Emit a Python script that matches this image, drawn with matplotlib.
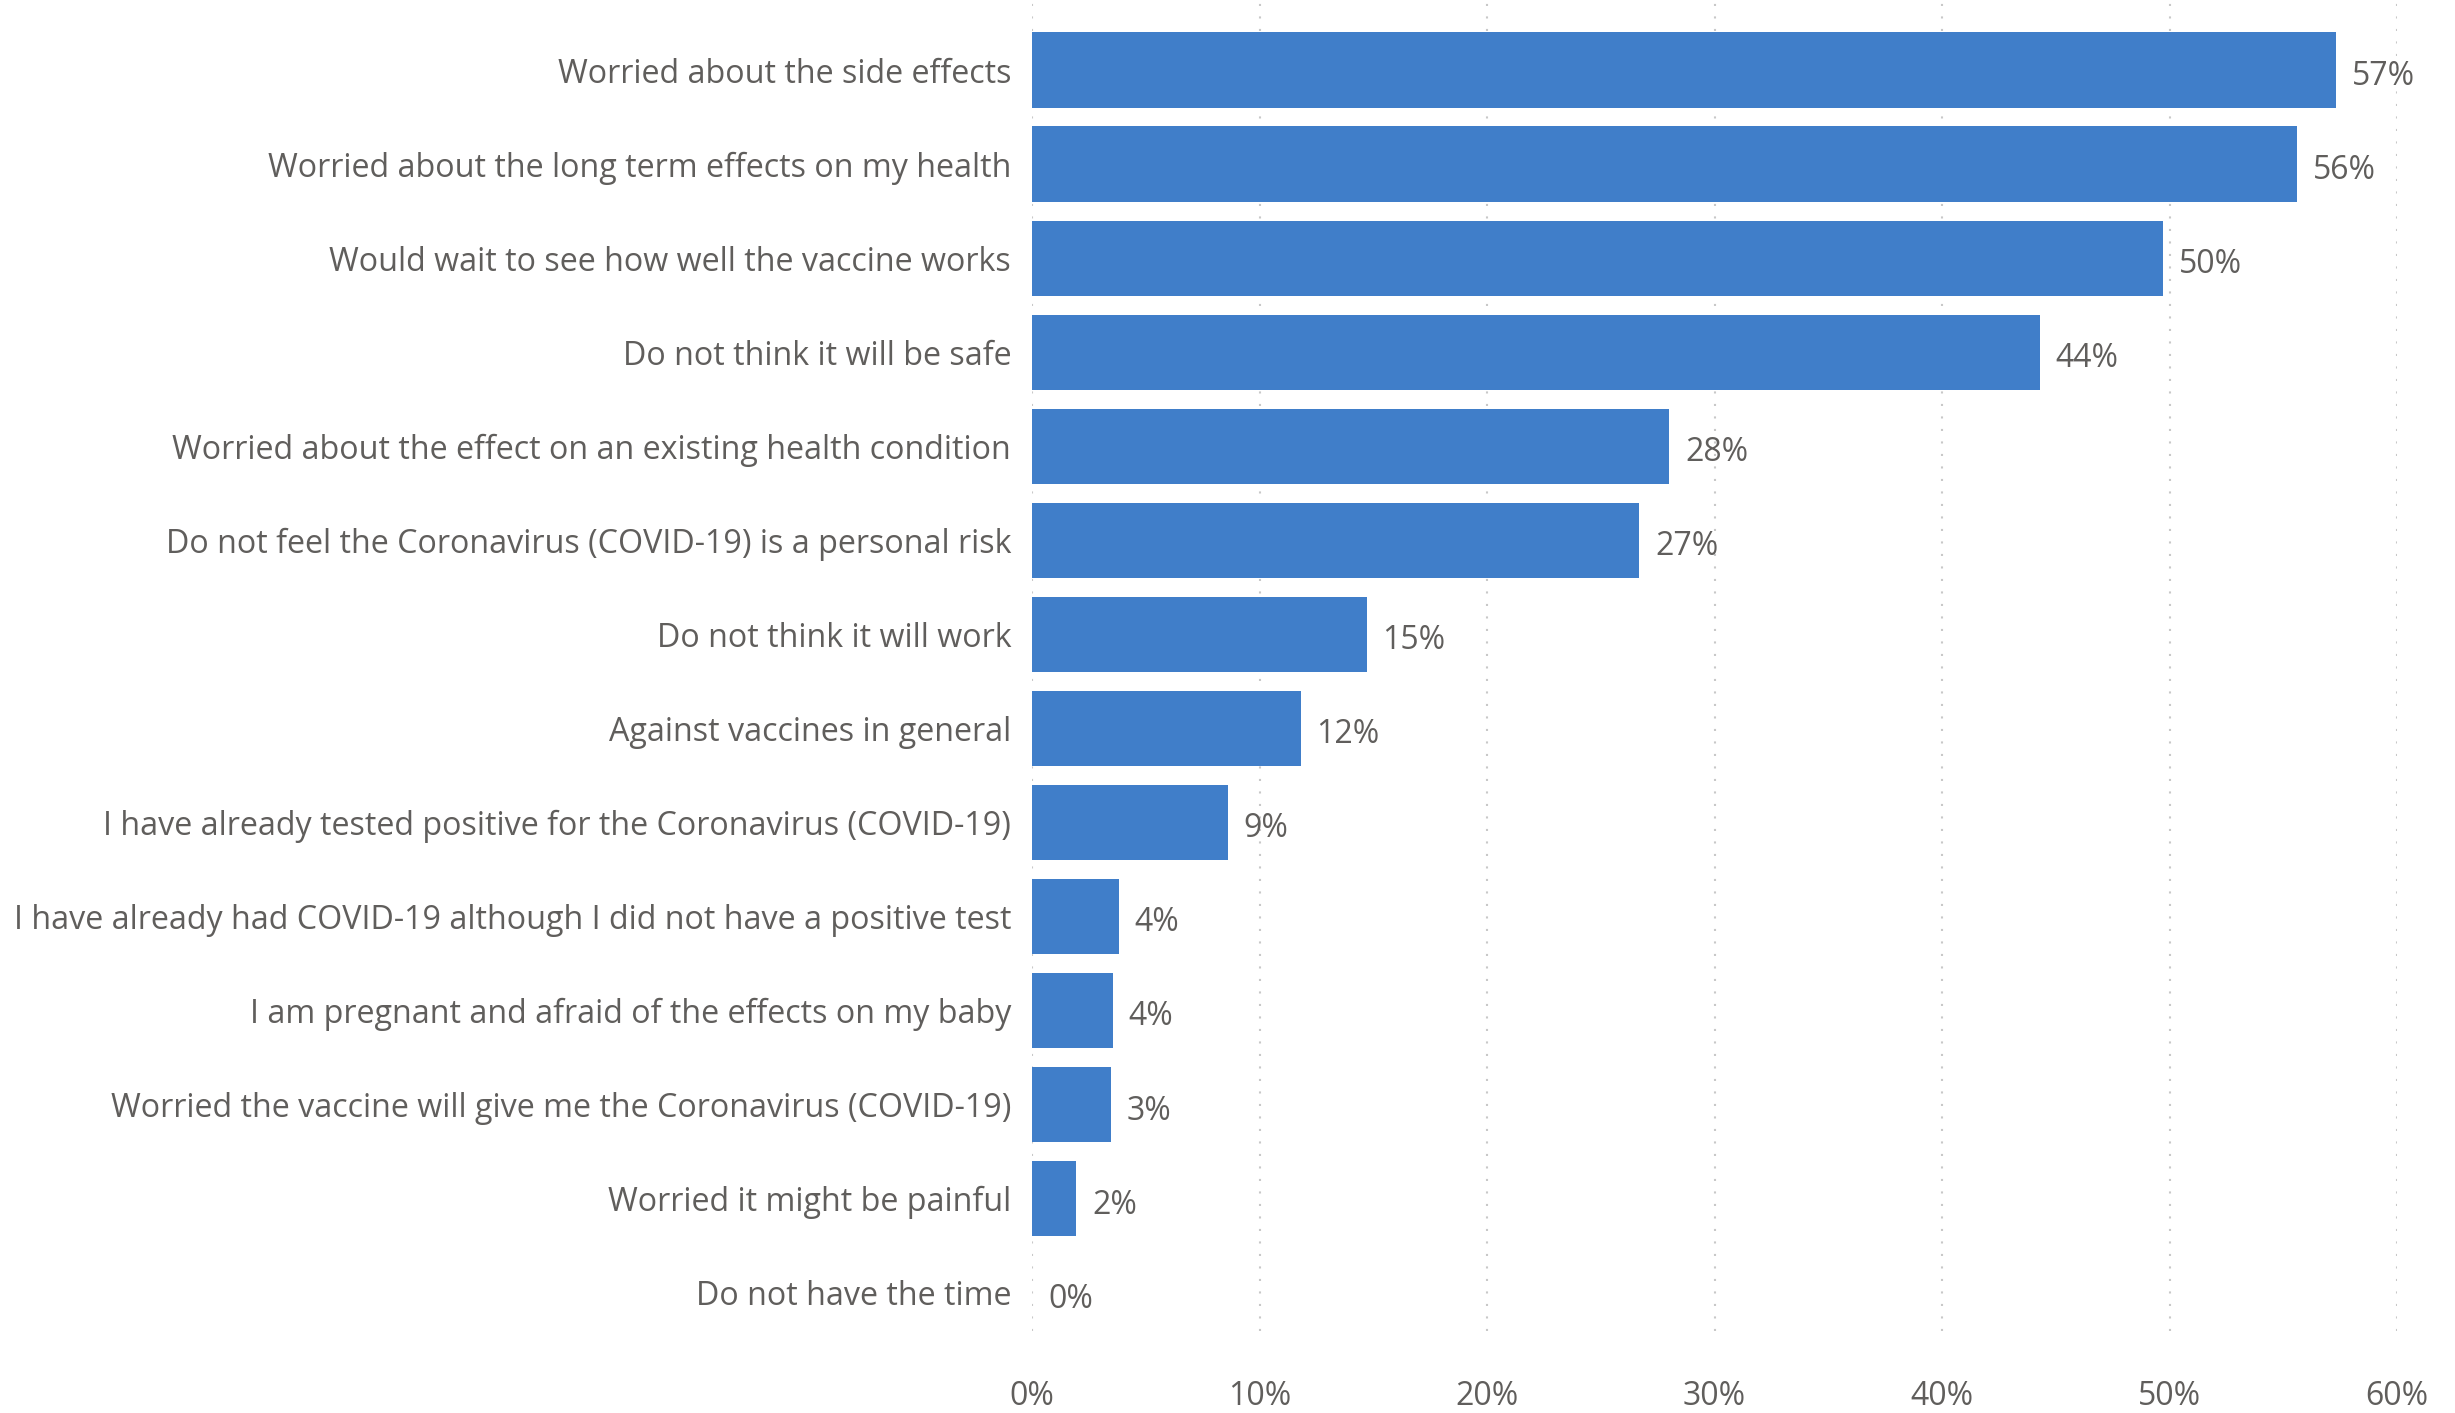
import matplotlib.pyplot as plt
from matplotlib.ticker import FuncFormatter

plt.rcParams['font.family'] = ['Open Sans', 'DejaVu Sans']

# Data
reasons = [
    'Worried about the side effects',
    'Worried about the long term effects on my health',
    'Would wait to see how well the vaccine works',
    'Do not think it will be safe',
    'Worried about the effect on an existing health condition',
    'Do not feel the Coronavirus (COVID-19) is a personal risk',
    'Do not think it will work',
    'Against vaccines in general',
    'I have already tested positive for the Coronavirus (COVID-19)',
    'I have already had COVID-19 although I did not have a positive test',
    'I am pregnant and afraid of the effects on my baby',
    'Worried the vaccine will give me the Coronavirus (COVID-19)',
    'Worried it might be painful',
    'Do not have the time',
]
shares = [57.3, 55.6, 49.7, 44.3, 28.0, 26.7, 14.7, 11.8, 8.6, 3.8, 3.55, 3.45, 1.95, 0.0]
labels = ['57%', '56%', '50%', '44%', '28%', '27%', '15%', '12%', '9%',
          '4%', '4%', '3%', '2%', '0%']

text_color = '#605E5C'
bar_color = '#407EC9'

fig = plt.figure(figsize=(24.55, 14.13), dpi=100)
ax = fig.add_axes([0.4204, 0.058, 0.556, 0.942])

y = list(range(len(reasons)))
ax.barh(y, shares, height=0.8, color=bar_color, zorder=2)

for yi, v, lab in zip(y, shares, labels):
    ax.text(v + 0.7, yi + 0.07, lab, va='center', ha='left',
            fontsize=23, color=text_color)

ax.set_ylim(len(reasons) - 1 + 0.41, -0.745)
ax.set_xlim(0, 60)
ax.set_yticks(y)
ax.set_yticklabels(reasons, fontsize=23.2, color=text_color)
ax.set_xticks(range(0, 61, 10))
ax.xaxis.set_major_formatter(FuncFormatter(lambda v, p: '%d%%' % v))
ax.tick_params(axis='x', labelsize=23, labelcolor=text_color, length=0, pad=35)
ax.tick_params(axis='y', length=0, pad=15)

ax.grid(axis='x', linestyle=(0, (1, 5)), color='#C8C8C8', linewidth=1.5, zorder=0)
for s in ax.spines.values():
    s.set_visible(False)

plt.savefig('out.png', dpi=100)
